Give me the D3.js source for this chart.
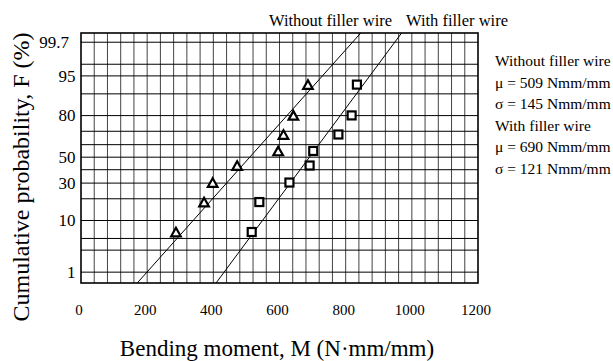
<!DOCTYPE html>
<html>
<head>
<meta charset="utf-8">
<script src="https://cdn.jsdelivr.net/npm/d3@7"></script>
<style>
  body { margin: 0; background: #fff; }
  svg { display: block; font-family: "Liberation Serif", "Times New Roman", serif; }
</style>
</head>
<body>
<svg id="chart"></svg>
<script>
// cumulative probability (%) of each ranked specimen
const probabilities = [6.5, 18.2, 30.4, 43.3, 55.0, 67.7, 80.1, 92.9];
// bending moment (N·mm/mm)
const momentWithout = [287, 372, 398, 472, 596, 612, 642, 686];
const momentWith = [516, 539, 630, 691, 702, 778, 818, 834];

// fitted lines as [moment, probability %] end points
const fitWithout = [[166, 0.5], [854, 99.5]];
const fitWith = [[405, 0.5], [976, 99.5]];

const xTicks = [0, 200, 400, 600, 800, 1000, 1200];
const yGrid = [1, 3, 5, 10, 20, 30, 40, 50, 60, 70, 80, 90, 95, 97, 99];
const yTicks = [1, 10, 30, 50, 80, 95, 99];
const yTickLabels = ["1", "10", "30", "50", "80", "95", "99.7"];

const notes = [
  "Without filler wire",
  "\u03bc = 509 Nmm/mm",
  "\u03c3 = 145 Nmm/mm",
  "With filler wire",
  "\u03bc = 690 Nmm/mm",
  "\u03c3 = 121 Nmm/mm"
];

// inverse of the standard normal cdf (Acklam)
function probit(p) {
  const a = [-39.69683028665376, 220.9460984245205, -275.9285104469687, 138.3577518672690, -30.66479806614716, 2.506628277459239];
  const b = [-54.47609879822406, 161.5858368580409, -155.6989798598866, 66.80131188771972, -13.28068155288572];
  const c = [-0.007784894002430293, -0.3223964580411365, -2.400758277161838, -2.549732539343734, 4.374664141464968, 2.938163982698783];
  const d = [0.007784695709041462, 0.3224671290700398, 2.445134137142996, 3.754408661907416];
  const lo = 0.02425;
  let q, r;
  if (p < lo) {
    q = Math.sqrt(-2 * Math.log(p));
    return (((((c[0]*q+c[1])*q+c[2])*q+c[3])*q+c[4])*q+c[5]) / ((((d[0]*q+d[1])*q+d[2])*q+d[3])*q+1);
  }
  if (p > 1 - lo) {
    q = Math.sqrt(-2 * Math.log(1 - p));
    return -(((((c[0]*q+c[1])*q+c[2])*q+c[3])*q+c[4])*q+c[5]) / ((((d[0]*q+d[1])*q+d[2])*q+d[3])*q+1);
  }
  q = p - 0.5; r = q * q;
  return (((((a[0]*r+a[1])*r+a[2])*r+a[3])*r+a[4])*r+a[5])*q / (((((b[0]*r+b[1])*r+b[2])*r+b[3])*r+b[4])*r+1);
}

const width = 613, height = 361;
const plot = {left: 81, top: 33, right: 478, bottom: 283};

const svg = d3.select("#chart")
    .attr("width", width)
    .attr("height", height);

const x = d3.scaleLinear().domain([0, 1200]).range([plot.left, plot.right]);
const z = d3.scaleLinear().domain([-2.546, 2.513]).range([plot.bottom, plot.top]);
const y = pct => z(probit(pct / 100));

svg.append("defs").append("clipPath").attr("id", "plot-clip")
  .append("rect")
    .attr("x", plot.left).attr("y", plot.top)
    .attr("width", plot.right - plot.left).attr("height", plot.bottom - plot.top);

// grid
const grid = svg.append("g").attr("stroke", "#000").attr("stroke-width", 1);
grid.selectAll(".vx")
  .data(d3.range(40, 1200, 40))
  .enter().append("line")
    .attr("x1", d => x(d)).attr("x2", d => x(d))
    .attr("y1", plot.top).attr("y2", plot.bottom)
    .attr("stroke", "#444");
grid.selectAll(".hy")
  .data(yGrid)
  .enter().append("line")
    .attr("x1", plot.left).attr("x2", plot.right)
    .attr("y1", d => y(d)).attr("y2", d => y(d));

// fitted lines
const line = d3.line().x(d => x(d[0])).y(d => y(d[1]));
svg.append("g").attr("clip-path", "url(#plot-clip)")
  .selectAll("path")
  .data([fitWithout, fitWith])
  .enter().append("path")
    .attr("d", line)
    .attr("fill", "none")
    .attr("stroke", "#000")
    .attr("stroke-width", 1);

// markers
svg.append("g").selectAll("path")
  .data(momentWithout)
  .enter().append("path")
    .attr("transform", (d, i) => `translate(${x(d)},${y(probabilities[i])})`)
    .attr("d", "M0,-4.3L4.8,4.3L-4.8,4.3Z")
    .attr("fill", "#fff")
    .attr("stroke", "#000")
    .attr("stroke-width", 2.2);

svg.append("g").selectAll("rect")
  .data(momentWith)
  .enter().append("rect")
    .attr("x", d => x(d) - 4)
    .attr("y", (d, i) => y(probabilities[i]) - 4)
    .attr("width", 8).attr("height", 8)
    .attr("fill", "#fff")
    .attr("stroke", "#000")
    .attr("stroke-width", 2.2);

// frame
svg.append("rect")
    .attr("x", plot.left).attr("y", plot.top)
    .attr("width", plot.right - plot.left).attr("height", plot.bottom - plot.top)
    .attr("fill", "none")
    .attr("stroke", "#000")
    .attr("stroke-width", 1.6);

// tick labels
svg.append("g").selectAll("text")
  .data(xTicks)
  .enter().append("text")
    .attr("x", d => x(d) - 2)
    .attr("y", 315)
    .attr("text-anchor", "middle")
    .attr("font-size", 15)
    .text(d => d);

svg.append("g").selectAll("text")
  .data(yTicks)
  .enter().append("text")
    .attr("x", (d, i) => yTickLabels[i] === "99.7" ? 69 : 75.5)
    .attr("y", d => y(d))
    .attr("dy", "0.34em")
    .attr("text-anchor", "end")
    .attr("font-size", 17)
    .text((d, i) => yTickLabels[i]);

// axis titles
svg.append("text")
    .attr("x", 277).attr("y", 356)
    .attr("text-anchor", "middle")
    .attr("font-size", 23)
    .text("Bending moment, M (N\u00b7mm/mm)");

svg.append("text")
    .attr("transform", "translate(29,177) rotate(-90)")
    .attr("text-anchor", "middle")
    .attr("font-size", 24)
    .text("Cumulative probability, F (%)");

// line captions above the plot
svg.append("text").attr("x", 269).attr("y", 26).attr("font-size", 16.5).text("Without filler wire");
svg.append("text").attr("x", 406).attr("y", 26).attr("font-size", 16.5).text("With filler wire");

// statistics on the right
svg.append("g").selectAll("text")
  .data(notes)
  .enter().append("text")
    .attr("x", 495)
    .attr("y", (d, i) => 66 + i * 21.5)
    .attr("font-size", 15.5)
    .text(d => d);
</script>
</body>
</html>
